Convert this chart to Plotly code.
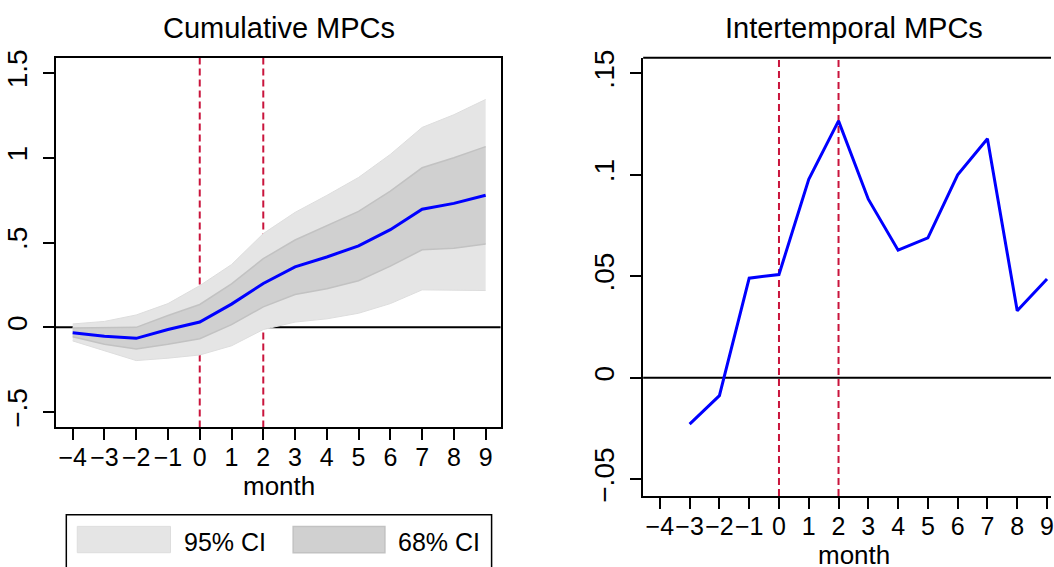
import plotly.graph_objects as go

# ---------------- data ----------------
months = [-4, -3, -2, -1, 0, 1, 2, 3, 4, 5, 6, 7, 8, 9]
cum_mpc = [-0.032, -0.052, -0.065, -0.013, 0.031, 0.137, 0.259, 0.357, 0.415, 0.48, 0.576, 0.697, 0.731, 0.779]
ci95_hi = [0.02, 0.035, 0.073, 0.14, 0.246, 0.37, 0.553, 0.678, 0.778, 0.884, 1.02, 1.179, 1.254, 1.344]
ci95_lo = [-0.08, -0.138, -0.196, -0.182, -0.163, -0.109, -0.013, 0.031, 0.05, 0.083, 0.14, 0.221, 0.217, 0.217]
ci68_hi = [-0.004, -0.002, 0.0, 0.07, 0.135, 0.256, 0.405, 0.515, 0.6, 0.684, 0.803, 0.941, 1.0, 1.066]
ci68_lo = [-0.055, -0.1, -0.128, -0.1, -0.067, 0.016, 0.121, 0.194, 0.227, 0.275, 0.361, 0.457, 0.467, 0.492]

inter_months = [-3, -2, -1, 0, 1, 2, 3, 4, 5, 6, 7, 8, 9]
inter_mpc = [-0.0228, -0.0088, 0.0491, 0.0509, 0.0978, 0.1266, 0.088, 0.0629, 0.069, 0.1, 0.1178, 0.033, 0.0487]

event_months = [0, 2]

x_ticks = months
left_yvals = [-0.5, 0, 0.5, 1, 1.5]
left_ytext = ["\u2212.5", "0", ".5", "1", "1.5"]
right_yvals = [-0.05, 0, 0.05, 0.1, 0.15]
right_ytext = ["\u2212.05", "0", ".05", ".1", ".15"]

titles = ["Cumulative MPCs", "Intertemporal MPCs"]
legend_labels = ["95% CI", "68% CI"]

# ---------------- styling ----------------
W, H = 1054, 567
FONT = "Liberation Sans, Arial, Helvetica, sans-serif"
C95 = "#e5e5e5"
C95_EDGE = "#dddddd"
C68 = "#d0d0d0"
C68_EDGE = "#c2c2c2"
BLUE = "#0000ff"
RED = "#c9143c"


def px(x):
    return x / W


def py(y):
    return 1 - y / H


fig = go.Figure()

# 95% band
fig.add_trace(go.Scatter(x=months, y=ci95_lo, mode="lines", line=dict(color=C95_EDGE, width=1),
                         showlegend=False, hoverinfo="skip", xaxis="x", yaxis="y"))
fig.add_trace(go.Scatter(x=months, y=ci95_hi, mode="lines", line=dict(color=C95_EDGE, width=1),
                         fill="tonexty", fillcolor=C95, name=legend_labels[0], showlegend=False,
                         xaxis="x", yaxis="y"))
# 68% band
fig.add_trace(go.Scatter(x=months, y=ci68_lo, mode="lines", line=dict(color=C68_EDGE, width=1.5),
                         showlegend=False, hoverinfo="skip", xaxis="x", yaxis="y"))
fig.add_trace(go.Scatter(x=months, y=ci68_hi, mode="lines", line=dict(color=C68_EDGE, width=1.5),
                         fill="tonexty", fillcolor=C68, name=legend_labels[1], showlegend=False,
                         xaxis="x", yaxis="y"))
# point estimate
fig.add_trace(go.Scatter(x=months, y=cum_mpc, mode="lines", line=dict(color=BLUE, width=3),
                         showlegend=False, xaxis="x", yaxis="y"))

# intertemporal
fig.add_trace(go.Scatter(x=inter_months, y=inter_mpc, mode="lines", line=dict(color=BLUE, width=3),
                         showlegend=False, xaxis="x2", yaxis="y2"))

# reference lines (below traces)
for xr, yr in [("x", "y"), ("x2", "y2")]:
    for m in event_months:
        fig.add_shape(type="line", xref=xr, yref=yr + " domain", x0=m, x1=m, y0=0, y1=1,
                      line=dict(color=RED, width=2, dash="7px,4px"), layer="below")
    fig.add_shape(type="line", xref=xr + " domain", yref=yr, x0=0, x1=1, y0=0, y1=0,
                  line=dict(color="black", width=2), layer="below")

# top border of the (cut-off) right panel
fig.add_shape(type="line", xref="paper", yref="paper", x0=px(645), x1=1.0, y0=py(51), y1=py(51),
              line=dict(color="black", width=2))

axis_common = dict(showgrid=False, zeroline=False, showline=True, linecolor="black", linewidth=2,
                   ticks="outside", ticklen=11, tickwidth=1.5, tickcolor="black")
xfont = dict(family=FONT, size=25, color="black")
yfont = dict(family=FONT, size=28, color="black")

fig.update_layout(
    width=W, height=H,
    margin=dict(l=0, r=0, t=0, b=0),
    paper_bgcolor="white", plot_bgcolor="white",
    font=dict(family=FONT, color="black"),
    showlegend=False,
    xaxis=dict(domain=[px(56), px(502)], range=[-4.53, 9.47], tickmode="array", tickvals=x_ticks,
               tickangle=0, ticklabelstandoff=-4, tickfont=xfont, anchor="y", mirror=True, **axis_common),
    yaxis=dict(domain=[py(430), py(51)], range=[-0.59, 1.59], tickmode="array", tickvals=left_yvals,
               ticktext=left_ytext, tickangle=-90, ticklabelstandoff=5, tickfont=yfont, anchor="x",
               mirror=True, **axis_common),
    xaxis2=dict(domain=[px(645), 1.0], range=[-4.56, 9.134], tickmode="array", tickvals=x_ticks,
                tickangle=0, ticklabelstandoff=-4, ticklabeloverflow="allow", tickfont=xfont,
                anchor="y2", **axis_common),
    yaxis2=dict(domain=[py(500.3), py(51)], range=[-0.0582, 0.1577], tickmode="array",
                tickvals=right_yvals, ticktext=right_ytext, tickangle=-90, ticklabelstandoff=5,
                tickfont=yfont, anchor="x2", **axis_common),
)

# titles
fig.add_annotation(text=titles[0], xref="paper", yref="paper", x=px(280), y=py(21), showarrow=False,
                   xanchor="center", yanchor="middle", font=dict(family=FONT, size=29, color="black"))
fig.add_annotation(text=titles[1], xref="paper", yref="paper", x=px(856), y=py(21), showarrow=False,
                   xanchor="center", yanchor="middle", font=dict(family=FONT, size=29, color="black"))
# axis titles
fig.add_annotation(text="month", xref="paper", yref="paper", x=px(280), y=py(490), showarrow=False,
                   xanchor="center", yanchor="middle", font=dict(family=FONT, size=26, color="black"))
fig.add_annotation(text="month", xref="paper", yref="paper", x=px(856), y=py(561), showarrow=False,
                   xanchor="center", yanchor="middle", font=dict(family=FONT, size=26, color="black"))

# legend box (manual, left panel)
fig.add_shape(type="rect", xref="paper", yref="paper", x0=px(66.5), x1=px(493), y0=py(519.5), y1=py(600),
              line=dict(color="black", width=1.5), fillcolor="white")
fig.add_shape(type="rect", xref="paper", yref="paper", x0=px(77.5), x1=px(171), y0=py(531.5), y1=py(558.5),
              line=dict(color=C95_EDGE, width=1), fillcolor=C95)
fig.add_shape(type="rect", xref="paper", yref="paper", x0=px(294), x1=px(386), y0=py(531.5), y1=py(558.5),
              line=dict(color=C68_EDGE, width=1.5), fillcolor=C68)
fig.add_annotation(text=legend_labels[0], xref="paper", yref="paper", x=px(183), y=py(548), showarrow=False,
                   xanchor="left", yanchor="middle", font=dict(family=FONT, size=25, color="black"))
fig.add_annotation(text=legend_labels[1], xref="paper", yref="paper", x=px(397), y=py(548), showarrow=False,
                   xanchor="left", yanchor="middle", font=dict(family=FONT, size=25, color="black"))

fig.write_html("out.html", config={"displayModeBar": False},
               post_script="document.body.style.margin='0';document.body.style.overflow='hidden';")
